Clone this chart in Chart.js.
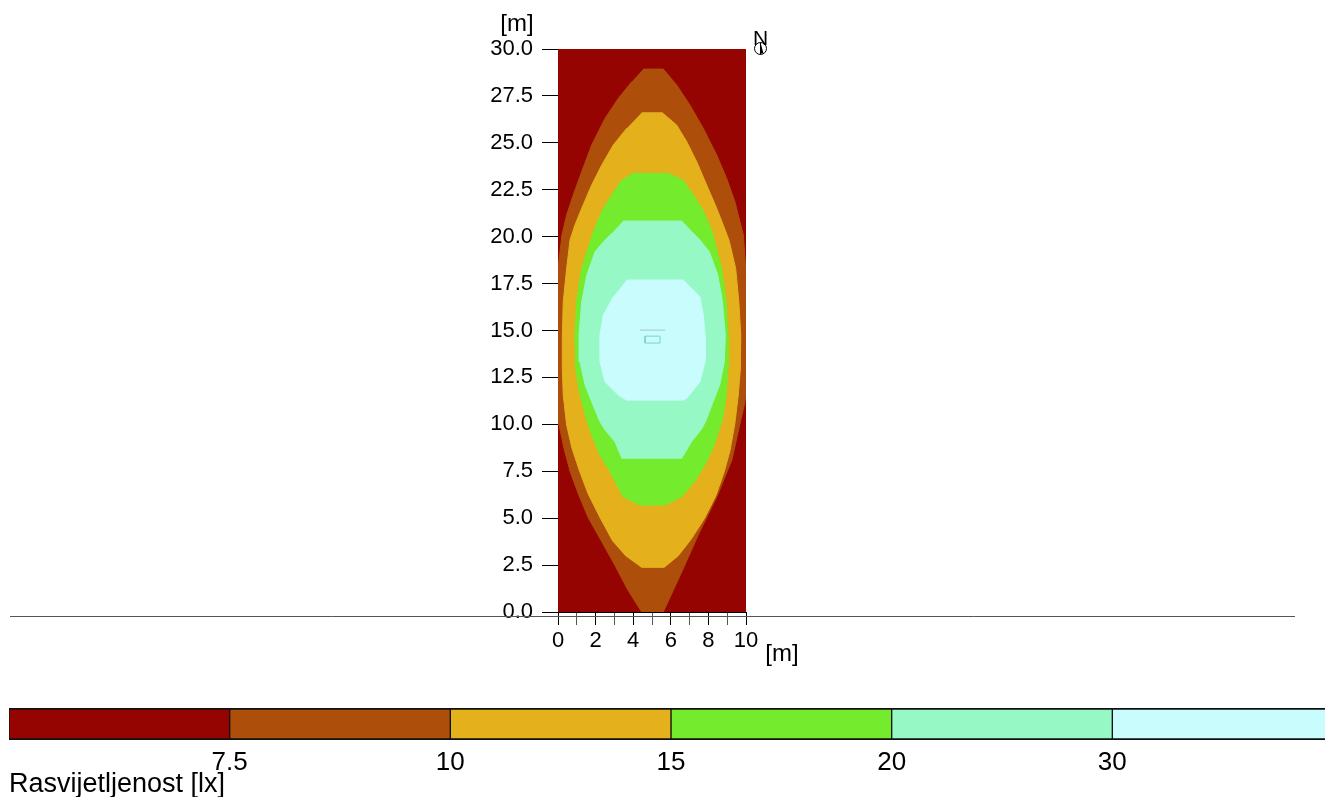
<!DOCTYPE html>
<html>
<head>
<meta charset="utf-8">
<script src="https://cdn.jsdelivr.net/npm/chart.js@4.4.1/dist/chart.umd.min.js"></script>
<style>
  html, body { margin: 0; padding: 0; background: #fff; overflow: hidden; }
  #wrap { position: relative; width: 1325px; height: 797px; overflow: hidden; }
  #plot { position: absolute; left: 0; top: 0; }
  #legend { position: absolute; left: 0; top: 690px; }
</style>
</head>
<body>
<div id="wrap">
  <canvas id="plot" width="1325" height="797"></canvas>
  <canvas id="legend" width="1340" height="117"></canvas>
</div>
<script>
// iso-lux levels and their colours (lowest band first)
const levelLabels = ['7.5', '10', '15', '20', '30'];
const levelColors = ['#950400', '#ad4e0b', '#e4b11c', '#74ec2d', '#96f8c4', '#c9fcfd'];

// contour bands, polygons in metres [x, y]
const zoneBase = [[0, 0], [10, 0], [10, 30], [0, 30]];

const zone7_5 = [
  [4.54, 28.93], [5.60, 28.93], [6.31, 28.08], [7.02, 27.01], [7.73, 25.77], [8.44, 24.35],
  [8.97, 23.11], [9.41, 21.86], [9.68, 20.79], [9.86, 20.09], [9.97, 18.5], [10, 17.5],
  [10, 12.0], [9.95, 11.2], [9.72, 10.23], [9.25, 8.10], [8.45, 6.14], [7.50, 4.19],
  [6.55, 2.06], [5.60, 0], [4.45, 0], [3.70, 1.2], [3.02, 2.5], [2.30, 3.8], [1.62, 5.0],
  [1.08, 6.3], [0.64, 7.5], [0.30, 8.8], [0.05, 10.0], [0, 10.8], [0, 18.3], [0.21, 20.09],
  [0.46, 21.15], [0.81, 22.22], [1.26, 23.46], [1.79, 24.88], [2.50, 26.30], [3.21, 27.37],
  [3.92, 28.25]
];

const zone10 = [
  [4.45, 26.60], [5.55, 26.60], [6.31, 25.95], [6.85, 25.06], [7.38, 23.99], [7.91, 22.75],
  [8.44, 21.51], [8.79, 20.62], [9.10, 19.8], [9.45, 18.31], [9.62, 16.53], [9.72, 14.76],
  [9.70, 12.98], [9.59, 11.56], [9.40, 10.0], [9.15, 8.6], [8.85, 7.5], [8.40, 6.2],
  [7.80, 5.0], [7.10, 3.9], [6.40, 3.0], [5.65, 2.38], [4.45, 2.38], [3.60, 3.0],
  [2.90, 3.8], [2.25, 5.0], [1.60, 6.3], [1.15, 7.5], [0.75, 8.7], [0.46, 9.96],
  [0.28, 11.56], [0.23, 12.98], [0.23, 14.76], [0.28, 16.53], [0.46, 18.31], [0.64, 19.82],
  [0.90, 20.62], [1.26, 21.51], [1.79, 22.75], [2.32, 23.81], [2.94, 24.88], [3.65, 25.77]
];

const zone15 = [
  [3.92, 23.37], [5.86, 23.37], [6.66, 23.0], [7.20, 22.22], [7.75, 21.33], [8.20, 20.26],
  [8.70, 18.31], [8.95, 16.53], [9.05, 14.76], [9.05, 12.98], [8.95, 11.56], [8.75, 10.3],
  [8.35, 9.0], [7.85, 7.9], [7.30, 7.0], [6.58, 6.14], [5.69, 5.70], [4.36, 5.70],
  [3.47, 6.14], [2.77, 7.47], [2.23, 8.36], [1.79, 9.43], [1.61, 9.96], [1.17, 11.56],
  [0.94, 12.98], [0.90, 14.76], [0.99, 16.53], [1.26, 18.31], [1.88, 20.26], [2.32, 21.33],
  [2.86, 22.22], [3.39, 23.0]
];

const zone20 = [
  [3.47, 20.83], [6.58, 20.83], [7.20, 20.18], [7.55, 19.82], [8.05, 19.20], [8.50, 17.95],
  [8.75, 16.53], [8.90, 14.76], [8.85, 13.34], [8.60, 12.09], [8.25, 11.20], [7.85, 10.14],
  [7.60, 9.70], [7.10, 9.07], [6.58, 8.19], [3.40, 8.19], [3.03, 9.07], [2.50, 9.70],
  [2.23, 10.14], [1.79, 11.20], [1.44, 12.09], [1.17, 13.34], [1.12, 14.76], [1.26, 16.53],
  [1.53, 17.95], [1.97, 19.20], [2.50, 19.82], [2.86, 20.18]
];

const zone30 = [
  [3.65, 17.69], [6.66, 17.69], [7.55, 16.80], [7.73, 15.82], [7.82, 14.76], [7.82, 13.34],
  [7.55, 12.27], [6.85, 11.39], [6.66, 11.29], [3.65, 11.29], [3.21, 11.56], [2.50, 12.27],
  [2.23, 13.34], [2.23, 14.76], [2.41, 15.82], [2.94, 16.80]
];

// luminaire marker in the middle of the field
const lampBox = [[4.63, 14.33], [5.43, 14.33], [5.43, 14.70], [4.63, 14.70], [4.63, 14.33]];
const lampTag = [[4.36, 15.02], [5.69, 15.02]];

Chart.defaults.font.family = '"Liberation Sans", Arial, sans-serif';
Chart.defaults.color = '#000';

const toXY = pts => pts.map(([x, y]) => ({ x, y }));

const zones = [
  { pts: zone30, color: levelColors[5] },
  { pts: zone20, color: levelColors[4] },
  { pts: zone15, color: levelColors[3] },
  { pts: zone10, color: levelColors[2] },
  { pts: zone7_5, color: levelColors[1] },
  { pts: zoneBase, color: levelColors[0] }
];

const plotExtras = {
  id: 'plotExtras',
  afterDraw(chart) {
    const { ctx, chartArea: a } = chart;
    ctx.save();
    // separator line under the plan
    ctx.strokeStyle = '#555';
    ctx.lineWidth = 1;
    ctx.beginPath();
    ctx.moveTo(10, a.bottom + 4.5);
    ctx.lineTo(1295, a.bottom + 4.5);
    ctx.stroke();

    // unit labels
    ctx.fillStyle = '#000';
    ctx.font = '24px "Liberation Sans", Arial, sans-serif';
    ctx.textAlign = 'center';
    ctx.textBaseline = 'middle';
    ctx.fillText('[m]', a.left - 41, a.top - 25);
    ctx.fillText('[m]', a.right + 36, a.bottom + 42);

    // north arrow
    const nx = a.right + 14.5, ny = a.top - 0.5;
    ctx.font = '21px "Liberation Sans", Arial, sans-serif';
    ctx.fillText('N', nx, ny - 9);
    ctx.strokeStyle = '#000';
    ctx.beginPath();
    ctx.arc(nx, ny, 6, 0, Math.PI * 2);
    ctx.stroke();
    ctx.beginPath();
    ctx.moveTo(nx, ny - 6);
    ctx.lineTo(nx, ny + 6);
    ctx.stroke();
    ctx.beginPath();
    ctx.moveTo(nx, ny - 6);
    ctx.lineTo(nx + 3, ny + 5);
    ctx.lineTo(nx, ny + 5);
    ctx.closePath();
    ctx.fillStyle = '#000';
    ctx.fill();
    ctx.restore();
  }
};

new Chart(document.getElementById('plot'), {
  type: 'line',
  data: {
    datasets: [
      {
        data: toXY(lampTag),
        borderColor: 'rgba(120,120,120,0.4)',
        borderWidth: 1,
        pointRadius: 0,
        fill: false
      },
      {
        data: toXY(lampBox),
        borderColor: '#7fd3c4',
        borderWidth: 1,
        pointRadius: 0,
        fill: false
      },
      ...zones.map(z => ({
        data: toXY(z.pts),
        backgroundColor: z.color,
        borderColor: z.color,
        borderWidth: 1,
        pointRadius: 0,
        tension: 0,
        fill: 'shape'
      }))
    ]
  },
  options: {
    responsive: false,
    animation: false,
    events: [],
    layout: { padding: { left: 478, right: 579, top: 49, bottom: 125 } },
    plugins: { legend: { display: false }, tooltip: { enabled: false } },
    scales: {
      x: {
        type: 'linear',
        min: 0,
        max: 10,
        z: 1,
        grid: {
          drawOnChartArea: false,
          tickLength: 13,
          tickColor: c => (c.tick && c.tick.value % 2 ? '#555' : '#000')
        },
        border: { display: true, color: '#000', width: 1 },
        ticks: {
          stepSize: 1,
          autoSkip: false,
          maxRotation: 0,
          padding: 3,
          color: '#000',
          font: { size: 22 },
          callback: v => (v % 2 === 0 ? String(v) : '')
        },
        afterFit: s => { s.height = 60; }
      },
      y: {
        type: 'linear',
        min: 0,
        max: 30,
        z: 1,
        grid: { drawOnChartArea: false, tickLength: 16, tickColor: '#000' },
        border: { display: true, color: '#000', width: 1 },
        ticks: {
          stepSize: 2.5,
          padding: 9,
          color: '#000',
          font: { size: 22 },
          callback: v => v.toFixed(1)
        },
        afterFit: s => { s.width = 80; }
      }
    }
  },
  plugins: [plotExtras]
});

// colour scale bar (the canvas runs a little past the page edge, as in the original)
new Chart(document.getElementById('legend'), {
  type: 'bar',
  data: {
    labels: [''],
    datasets: levelColors.map(c => ({
      data: [1],
      backgroundColor: c,
      borderColor: '#111',
      borderWidth: { top: 2, bottom: 2, left: 1, right: 1 },
      borderSkipped: false,
      barPercentage: 1,
      categoryPercentage: 1
    }))
  },
  options: {
    indexAxis: 'y',
    responsive: false,
    animation: false,
    events: [],
    layout: { padding: { left: 9, right: 0, top: 18, bottom: 0 } },
    plugins: { legend: { display: false }, tooltip: { enabled: false } },
    scales: {
      x: {
        type: 'linear',
        stacked: true,
        min: 0,
        max: 6,
        grid: { display: false, drawTicks: false },
        border: { display: false },
        ticks: {
          stepSize: 1,
          autoSkip: false,
          maxRotation: 0,
          padding: 7,
          color: '#000',
          font: { size: 26 },
          callback: v => levelLabels[v - 1] ?? ''
        },
        title: {
          display: true,
          text: 'Rasvijetljenost [lx]',
          align: 'start',
          color: '#000',
          font: { size: 27 },
          padding: { top: 0, bottom: 6 }
        },
        afterFit: s => { s.height = 67; }
      },
      y: { stacked: true, display: false }
    }
  }
});
</script>
</body>
</html>
